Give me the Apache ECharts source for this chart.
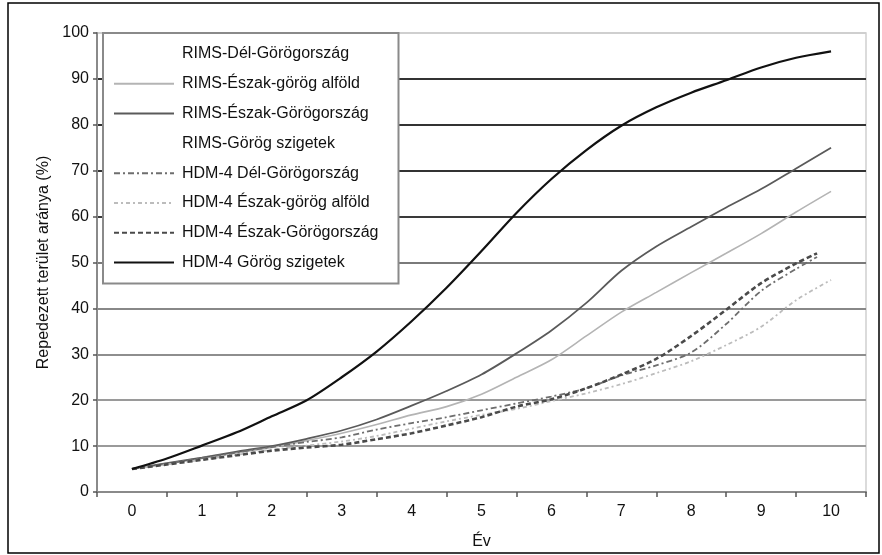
<!DOCTYPE html>
<html>
<head>
<meta charset="utf-8">
<script src="https://cdn.jsdelivr.net/npm/echarts@6/dist/echarts.min.js"></script>
<style>
html,body{margin:0;padding:0;background:#fff;}
#chart{width:882px;height:555px;}
</style>
</head>
<body>
<div id="chart"></div>
<script>
// Category labels of the x axis (years)
const xCategories = ['0','1','2','3','4','5','6','7','8','9','10'];
// Sample years for curves
const yearsFull = [0,0.5,1,1.5,2,2.5,3,3.5,4,4.5,5,5.5,6,6.5,7,7.5,8,8.5,9,9.5,10];
const yearsHdm  = [0,0.5,1,1.5,2,2.5,3,3.5,4,4.5,5,5.5,6,6.5,7,7.5,8,8.5,9,9.5,9.8];

const seriesNames = [
  'RIMS-Dél-Görögország',
  'RIMS-Észak-görög alföld',
  'RIMS-Észak-Görögország',
  'RIMS-Görög szigetek',
  'HDM-4 Dél-Görögország',
  'HDM-4 Észak-görög alföld',
  'HDM-4 Észak-Görögország',
  'HDM-4 Görög szigetek'
];

// Values (%)
const rimsDel = [];
const rimsEszakAlfold = [5,6.1,7.3,8.5,9.7,11.2,12.8,14.7,16.8,18.6,21.3,25,28.8,34,39.2,43.5,47.8,52,56.3,61,65.5];
const rimsEszak = [5,6.3,7.5,8.8,10,11.6,13.4,15.8,18.8,22,25.6,30.2,35.2,41.2,48.2,53.5,57.8,62,66,70.5,75];
const rimsSzigetek = [];
const hdmDel = [5,6.2,7.4,8.6,9.8,10.9,11.9,13.6,15,16.3,17.8,19.3,20.8,22.6,25.4,27.6,30.4,36.6,43.8,48.6,51.2];
const hdmEszakAlfold = [5,6,7,8.1,9.2,10.1,11,12.2,13.8,15.4,16.8,18.1,19.8,21.5,23.5,25.9,28.5,32,36,41.8,46.2];
const hdmEszak = [5,6,7,8,9,9.7,10.3,11.5,12.8,14.5,16.3,18.6,20.2,22.6,25.6,29,34,39.7,45.5,49.8,52];
const hdmSzigetek = [5,7.3,10.1,13,16.5,20,25,30.6,37.2,44.5,52.5,60.8,68.2,74.5,79.8,83.8,87,89.7,92.5,94.6,96];

function pts(xs, ys){ return ys.map((v,i)=>[xs[i], v]); }

const styles = [
  {color:'rgba(0,0,0,0)', width:1, type:'solid'},
  {color:'#b4b4b4', width:1.6, type:'solid'},
  {color:'#5a5a5a', width:1.8, type:'solid'},
  {color:'rgba(0,0,0,0)', width:1, type:'solid'},
  {color:'#6e6e6e', width:1.8, type:[6,3,2,3]},
  {color:'#bcbcbc', width:1.8, type:[4,3,2,3]},
  {color:'#4a4a4a', width:2.6, type:[5,3]},
  {color:'#111111', width:2.2, type:'solid'}
];
const dataSets = [
  pts(yearsFull, rimsDel),
  pts(yearsFull, rimsEszakAlfold),
  pts(yearsFull, rimsEszak),
  pts(yearsFull, rimsSzigetek),
  pts(yearsHdm, hdmDel),
  pts(yearsFull, hdmEszakAlfold),
  pts(yearsHdm, hdmEszak),
  pts(yearsFull, hdmSzigetek)
];

const series = seriesNames.map((n,i)=>({
  name:n, type:'line', xAxisIndex:1, yAxisIndex:0,
  data:dataSets[i], smooth:0.3, showSymbol:false, symbol:'none',
  lineStyle:{color:styles[i].color, width:styles[i].width, type:styles[i].type},
  itemStyle:{color:styles[i].color},
  emphasis:{disabled:true}, animation:false, z: 2+i
}));

const font = 'Liberation Sans, Arial, sans-serif';
const chart = echarts.init(document.getElementById('chart'), null, {renderer:'canvas'});
chart.setOption({
  animation:false,
  backgroundColor:'#fff',
  grid:{left:97, right:16, top:33, bottom:61, show:true, borderColor:'#cfcfcf', borderWidth:1.5},
  legend:{
    orient:'vertical', left:103, top:33,
    data:seriesNames,
    itemWidth:60, itemHeight:14, itemGap:13.8,
    padding:[13,20,13,10],
    backgroundColor:'#fff', borderColor:'#8a8a8a', borderWidth:2,
    itemStyle:{opacity:0},
    textStyle:{fontFamily:font, fontSize:16, color:'#111', padding:[0,0,0,3]},
    selectedMode:false, z:10
  },
  xAxis:[
    {type:'category', data:xCategories, boundaryGap:true,
     axisLine:{show:true, onZero:false, lineStyle:{color:'#8a8a8a', width:2}},
     axisTick:{show:true, length:5, lineStyle:{color:'#555', width:1.5}},
     axisLabel:{fontFamily:font, fontSize:16, color:'#111', margin:12},
     splitLine:{show:false},
     name:'Év', nameLocation:'middle', nameGap:42,
     nameTextStyle:{fontFamily:font, fontSize:16, color:'#111'}},
    {type:'value', min:-0.5, max:10.5, show:false}
  ],
  yAxis:{type:'value', min:0, max:100, interval:10,
    axisLine:{show:true, onZero:false, lineStyle:{color:'#8a8a8a', width:2}},
    axisTick:{show:true, length:4, lineStyle:{color:'#555', width:1.5}},
    axisLabel:{fontFamily:font, fontSize:16, color:'#111', margin:8},
    splitLine:{show:true, lineStyle:{width:2, color:['#999','#9a9a9a','#9a9a9a','#8e8e8e','#888','#7a7a7a','#3a3a3a','#333','#333','#333','#cfcfcf']}},
    name:'Repedezett terület aránya (%)', nameLocation:'middle', nameGap:41, nameRotate:90,
    nameTextStyle:{fontFamily:font, fontSize:16, color:'#111'}
  },
  graphic:[{type:'rect', shape:{x:8, y:3, width:871, height:550}, style:{fill:null, stroke:'#000', lineWidth:1.5}, silent:true, z:100}],
  series:series
});
</script>
</body>
</html>
